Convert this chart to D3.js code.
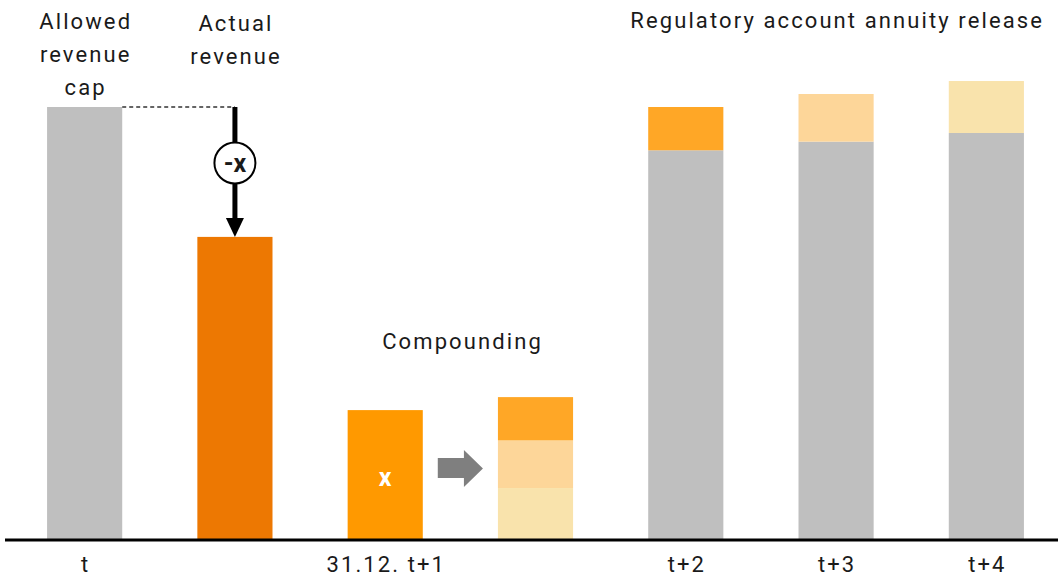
<!DOCTYPE html>
<html><head><meta charset="utf-8">
<script src="https://cdn.jsdelivr.net/npm/d3@7"></script>
<style>body{margin:0;background:#fff}svg{display:block}text{font-family:Roboto,"Noto Sans",sans-serif;fill:#1a1a1a}</style>
</head><body><svg id="c" width="1058" height="576"></svg>
<script>
const categories = ["t", "actual", "deficit", "compound", "t+2", "t+3", "t+4"];
const tickLabels = ["t", "", "31.12. t+1", "", "t+2", "t+3", "t+4"];
const grey          = [100, 0, 0, 0, 90, 92, 94];
const actualRevenue = [0, 70, 0, 0, 0, 0, 0];
const deficit       = [0, 0, 30, 0, 0, 0, 0];
const annuity3      = [0, 0, 0, 12, 0, 0, 12];
const annuity2      = [0, 0, 0, 11, 0, 11, 0];
const annuity1      = [0, 0, 0, 10, 10, 0, 0];
const seriesNames = ["grey", "actualRevenue", "deficit", "annuity3", "annuity2", "annuity1"];
const seriesData = [grey, actualRevenue, deficit, annuity3, annuity2, annuity1];
const colors = {grey: "#BFBFBF", actualRevenue: "#ED7802", deficit: "#FF9900", annuity3: "#F9E3AC", annuity2: "#FDD699", annuity1: "#FFA726"};
const LS = 2.1;

const svg = d3.select("#c");
const x = d3.scaleBand().domain(categories).range([9.5, 1061.5]).paddingInner(0.5).paddingOuter(0.25);
const y = d3.scaleLinear().domain([0, 100]).range([540, 107]);

const rows = categories.map((c, i) => {
  const r = {cat: c};
  seriesNames.forEach((s, j) => r[s] = seriesData[j][i]);
  return r;
});
const stacked = d3.stack().keys(seriesNames)(rows);

svg.append("g").selectAll("g").data(stacked).join("g")
  .attr("fill", d => colors[d.key])
  .selectAll("rect").data(d => d.filter(p => p[1] - p[0] > 0)).join("rect")
  .attr("x", d => x(d.data.cat)).attr("width", x.bandwidth())
  .attr("y", d => y(d[1])).attr("height", d => y(d[0]) - y(d[1]));

// baseline axis
const axis = d3.axisBottom(x).tickSize(0).tickPadding(16).tickFormat((d, i) => tickLabels[i]);
const ag = svg.append("g").attr("transform", "translate(0,540)").call(axis);
ag.select(".domain").attr("d", "M5,0H1058").attr("stroke", "#000").attr("stroke-width", 3);
ag.selectAll(".tick text").attr("font-size", 22).attr("font-family", "Roboto").attr("fill", "#1a1a1a")
  .attr("dy", "0.71em").attr("letter-spacing", LS).attr("dx", LS / 2);

const cx = c => x(c) + x.bandwidth() / 2;

// dashed line from allowed cap to actual
svg.append("line").attr("x1", x("t") + x.bandwidth()).attr("x2", cx("actual"))
  .attr("y1", y(100)).attr("y2", y(100)).attr("stroke", "#333").attr("stroke-width", 1.3).attr("stroke-dasharray", "4,3");

// down arrow
const ax = cx("actual");
svg.append("line").attr("x1", ax).attr("x2", ax).attr("y1", y(100)).attr("y2", y(70) - 18)
  .attr("stroke", "#000").attr("stroke-width", 5);
svg.append("path").attr("d", `M${ax - 9},${y(70) - 19}L${ax + 9},${y(70) - 19}L${ax},${y(70)}Z`).attr("fill", "#000");
svg.append("circle").attr("cx", ax).attr("cy", 163).attr("r", 20.5).attr("fill", "#fff").attr("stroke", "#000").attr("stroke-width", 2);
svg.append("text").attr("x", ax).attr("y", 172).attr("text-anchor", "middle").attr("font-size", 25).attr("font-weight", "bold").text("-x");

// x label
svg.append("text").attr("x", cx("deficit")).attr("y", 486).attr("text-anchor", "middle").attr("font-size", 25).attr("font-weight", "bold").style("fill", "#fff").text("x");

// grey arrow between deficit and compound
const gx0 = x("deficit") + x.bandwidth() + 15, gx1 = x("compound") - 15;
svg.append("path").attr("d", `M${gx0},458H${gx1 - 19}V450L${gx1},468.5L${gx1 - 19},487V478H${gx0}Z`).attr("fill", "#7F7F7F");

// text labels
function multi(xp, y0, lines) {
  const t = svg.append("text").attr("x", xp + LS / 2).attr("y", y0).attr("text-anchor", "middle")
    .attr("font-size", 22).attr("letter-spacing", LS);
  lines.forEach((l, i) => t.append("tspan").attr("x", xp + LS / 2).attr("dy", i ? 33 : 0).text(l));
}
multi(cx("t"), 29, ["Allowed", "revenue", "cap"]);
multi(cx("actual"), 31, ["Actual", "revenue"]);
multi(cx("compound") - 74, 349, ["Compounding"]);
multi(cx("t+3"), 28, ["Regulatory account annuity release"]);
</script></body></html>
